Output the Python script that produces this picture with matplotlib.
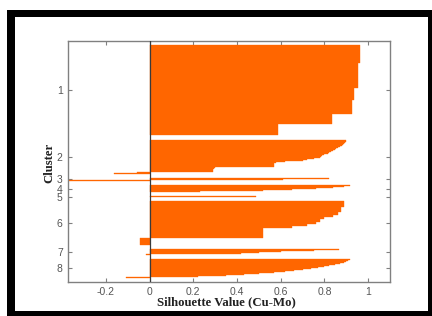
import numpy as np
import matplotlib
matplotlib.use("Agg")
import matplotlib.pyplot as plt
from matplotlib.patches import Rectangle

# ---- data: silhouette values per cluster (sorted descending, one per observation)
cluster_names = ["1", "2", "3", "4", "5", "6", "7", "8"]

c1_vals = [0.963, 0.953, 0.937, 0.927, 0.833, 0.586]
c1_counts = [18, 25, 12, 14, 10, 11]

c2 = [0.90, 0.90, 0.895, 0.89, 0.885, 0.88, 0.87,
      0.86, 0.855, 0.85, 0.84, 0.83, 0.82, 0.815,
      0.80, 0.79, 0.785, 0.78, 0.75, 0.72, 0.70,
      0.62, 0.58, 0.57, 0.57, 0.57, 0.57,
      0.30, 0.295, 0.29, 0.29, 0.29,
      -0.057, -0.164]
c3 = [0.82, 0.61, -0.372]
c4 = [0.915, 0.89, 0.84, 0.76, 0.65, 0.52, 0.23]
c5 = [0.486]
c6_vals = [0.89, 0.876, 0.86, 0.84, 0.80, 0.78, 0.76, 0.72, 0.65, 0.517, -0.046]
c6_counts = [6, 5, 3, 2, 2, 3, 2, 2, 2, 9, 7]
c7 = [0.868, 0.75, 0.60, 0.50, 0.42, -0.018]
c8 = [0.915, 0.91, 0.90, 0.89, 0.87, 0.85, 0.82, 0.80, 0.77, 0.74,
      0.70, 0.66, 0.62, 0.57, 0.50, 0.43, 0.35, 0.22, -0.11]

clusters = [
    list(np.repeat(c1_vals, c1_counts)),
    c2, c3, c4, c5,
    list(np.repeat(c6_vals, c6_counts)),
    c7, c8,
]

xtick_vals = [-0.2, 0, 0.2, 0.4, 0.6, 0.8, 1]
xtick_labels = ["-0.2", "0", "0.2", "0.4", "0.6", "0.8", "1"]

# ---- layout like MATLAB silhouette()
n = sum(len(c) for c in clusters)
space = max(int(np.floor(0.02 * n)), 2)
bars = [np.nan] * space
tcks = []
for c in clusters:
    start = len(bars) + 1
    bars += list(c)
    tcks.append(start + (len(c) - 1) / 2.0)
    bars += [np.nan] * space
bars = np.array(bars, dtype=float)
pos = np.arange(1, len(bars) + 1)
allvals = np.concatenate([np.asarray(c, float) for c in clusters])

W, H = 432, 316
fig = plt.figure(figsize=(W / 100, H / 100), dpi=100)
fig.patch.set_facecolor("white")

# black picture frame
fig.patches.append(Rectangle((7 / W, 0), 1.0, (H - 10) / H, transform=fig.transFigure,
                             facecolor="black", edgecolor="none", zorder=-10))
fig.patches.append(Rectangle((14.5 / W, (H - 311) / H), (427.5 - 14.5) / W, (311 - 17) / H,
                             transform=fig.transFigure, facecolor="white",
                             edgecolor="none", zorder=-9))

ax = fig.add_axes([68.3 / W, (H - 281.5) / H, (390 - 68.3) / W, (281.5 - 41) / H])
ax.set_facecolor("white")

mask = ~np.isnan(bars)
ax.barh(pos[mask], bars[mask], height=1.0, color="#ff6600", edgecolor="#ff6600",
        linewidth=0.25, zorder=2)
ax.axvline(0, color="#3a3a3a", lw=0.9, zorder=3)

ax.set_xlim(min(0, allvals.min()), 1.1)
ax.set_ylim(len(bars), 1)

ax.set_yticks(tcks)
ax.set_yticklabels(cluster_names)
ax.set_xticks(xtick_vals)
ax.set_xticklabels(xtick_labels)

for sp in ax.spines.values():
    sp.set_color("#808080")
    sp.set_linewidth(1.0)

ax.tick_params(direction="in", length=3, width=0.8, color="#808080",
               top=True, right=True, labelsize=7.5, labelcolor="#555555",
               pad=4)
for lab in ax.get_xticklabels() + ax.get_yticklabels():
    lab.set_family("Liberation Sans")

ax.set_xlabel("Silhouette Value (Cu-Mo)", family="Liberation Serif",
              fontweight="bold", fontsize=9.2, color="#222222")
ax.set_ylabel("Cluster", family="Liberation Serif",
              fontweight="bold", fontsize=9.2, color="#222222")
ax.xaxis.set_label_coords(0.49, -0.088)
ax.xaxis.label.set_va("center")
ax.yaxis.set_label_coords(-0.059, 0.495)
ax.yaxis.label.set_va("center")

fig.savefig("out.png", dpi=100, facecolor="white")
